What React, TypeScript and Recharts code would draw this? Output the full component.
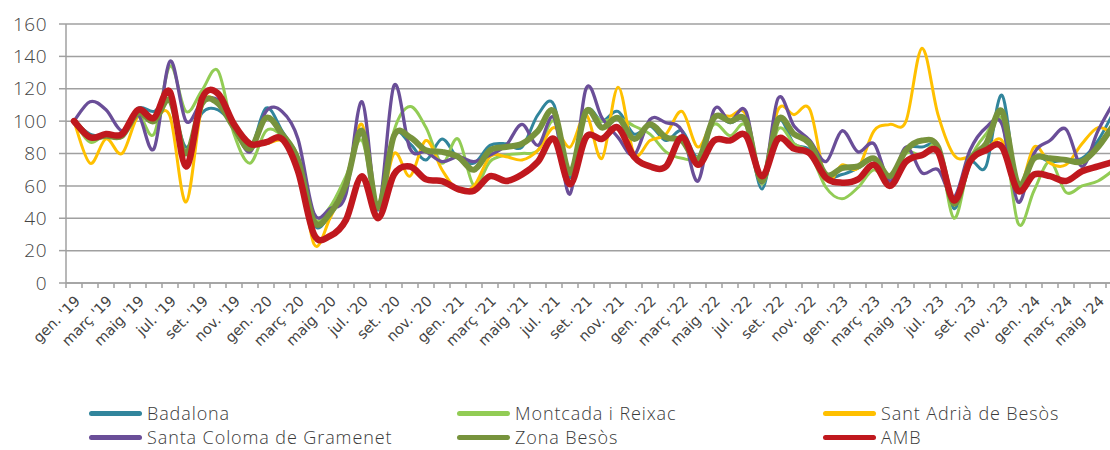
import { CartesianGrid, Line, LineChart, XAxis, YAxis } from "recharts";

// Monthly index (gen. 2019 = 100), gen. '19 – juny '24
const monthNames = ["gen.", "febr.", "març", "abr.", "maig", "juny", "jul.", "ag.", "set.", "oct.", "nov.", "des."];
const years = ["19", "20", "21", "22", "23", "24"];
const monthCount = 66;

const badalona = [
  100, 92, 91, 93, 108, 106, 113, 84, 105, 107, 97, 83,
  108, 94, 76, 36, 42, 59, 92, 45, 91, 86, 76, 89,
  77, 74, 85, 86, 84, 104, 110, 65, 106, 100, 106, 92,
  97, 88, 94, 78, 102, 99, 99, 58, 100, 86, 82, 66,
  67, 71, 76, 61, 82, 84, 83, 46, 74, 72, 116, 57,
  77, 75, 76, 77, 88, 106,
];
const montcada = [
  100, 87, 92, 90, 104, 92, 134, 106, 119, 131, 92, 74,
  94, 91, 78, 40, 47, 66, 88, 46, 94, 109, 96, 74,
  89, 60, 75, 79, 80, 82, 100, 67, 104, 100, 102, 97,
  92, 81, 77, 78, 98, 91, 97, 61, 95, 86, 80, 59,
  52, 59, 70, 62, 80, 79, 84, 40, 76, 92, 100, 37,
  57, 75, 56, 60, 63, 70,
];
const santAdria = [
  100, 74, 89, 80, 103, 102, 103, 50, 109, 112, 98, 87,
  86, 88, 77, 24, 40, 63, 98, 46, 80, 66, 88, 70,
  57, 60, 78, 78, 76, 82, 96, 84, 104, 77, 121, 80,
  88, 92, 106, 84, 102, 103, 104, 64, 107, 104, 107, 64,
  73, 71, 94, 98, 100, 145, 104, 79, 78, 82, 88, 57,
  84, 74, 73, 86, 96, 92,
];
const santaColoma = [
  100, 112, 107, 94, 104, 83, 137, 100, 112, 113, 97, 81,
  106, 106, 89, 43, 46, 55, 112, 46, 122, 83, 81, 75,
  78, 75, 79, 85, 98, 85, 102, 55, 120, 102, 90, 79,
  101, 99, 94, 63, 107, 100, 106, 62, 114, 97, 88, 75,
  94, 81, 86, 63, 84, 68, 70, 53, 82, 96, 98, 50,
  80, 88, 95, 72, 94, 112,
];
const zonaBesos = [
  100, 90, 91, 91, 105, 100, 113, 80, 111, 111, 96, 83,
  102, 92, 76, 38, 43, 61, 94, 47, 91, 90, 82, 81,
  78, 70, 82, 84, 86, 94, 106, 68, 106, 96, 102, 89,
  98, 90, 88, 76, 102, 100, 100, 63, 101, 92, 86, 67,
  71, 72, 77, 66, 82, 88, 84, 49, 76, 86, 106, 61,
  77, 77, 76, 75, 84, 98,
];
const amb = [
  100, 90, 92, 92, 107, 102, 118, 72, 114, 117, 98, 86,
  87, 89, 69, 30, 29, 39, 66, 40, 67, 72, 64, 63,
  58, 57, 66, 63, 67, 75, 89, 61, 90, 89, 96, 78,
  72, 72, 90, 73, 88, 88, 91, 66, 89, 83, 80, 65,
  62, 64, 73, 60, 75, 79, 81, 51, 75, 82, 84, 57,
  67, 66, 63, 69, 72, 75,
];

const yTicks = [0, 20, 40, 60, 80, 100, 120, 140, 160];

const series = [
  { key: "badalona", name: "Badalona", values: badalona, color: "#31859c", width: 3 },
  { key: "montcada", name: "Montcada i Reixac", values: montcada, color: "#92cc55", width: 3 },
  { key: "santAdria", name: "Sant Adrià de Besòs", values: santAdria, color: "#ffc000", width: 3 },
  { key: "santaColoma", name: "Santa Coloma de Gramenet", values: santaColoma, color: "#6a4e98", width: 3.3 },
  { key: "zona", name: "Zona Besòs", values: zonaBesos, color: "#77933c", width: 6 },
  { key: "amb", name: "AMB", values: amb, color: "#c0181e", width: 6.5 },
];

const months = Array.from({ length: monthCount }, (_, i) => `${monthNames[i % 12]} '${years[Math.floor(i / 12)]}`);

const rows = months.map((m, i) => {
  const row: Record<string, string | number> = { month: m };
  series.forEach((s) => (row[s.key] = s.values[i]));
  return row;
});

// Excel-style smoothed line (uniform Catmull-Rom as cubic beziers)
const excelCurve = (context: any) => {
  let pts: number[][] = [];
  return {
    areaStart() {},
    areaEnd() {},
    lineStart() {
      pts = [];
    },
    point(x: number, y: number) {
      pts.push([+x, +y]);
    },
    lineEnd() {
      const n = pts.length;
      if (!n) return;
      context.moveTo(pts[0][0], pts[0][1]);
      for (let i = 0; i < n - 1; i++) {
        const p0 = pts[Math.max(i - 1, 0)];
        const p1 = pts[i];
        const p2 = pts[i + 1];
        const p3 = pts[Math.min(i + 2, n - 1)];
        context.bezierCurveTo(
          p1[0] + (p2[0] - p0[0]) / 6,
          p1[1] + (p2[1] - p0[1]) / 6,
          p2[0] - (p3[0] - p1[0]) / 6,
          p2[1] - (p3[1] - p1[1]) / 6,
          p2[0],
          p2[1],
        );
      }
    },
  };
};

const axisGray = "#a0a0a0";
const labelColor = "#444";

function MonthTick(props: any) {
  const { x, y, payload, index } = props;
  const half = 8;
  const show = index % 2 === 0;
  const ax = x + 7;
  const ay = y + 19;
  return (
    <g>
      <line x1={x - half} x2={x - half} y1={y} y2={y + 5} stroke={axisGray} strokeWidth={1.5} />
      {show && (
        <text
          x={ax}
          y={ay}
          textAnchor="end"
          transform={`rotate(-45 ${ax} ${ay})`}
          fontFamily="DejaVu Sans"
          fontSize={14.5}
          fill={labelColor}
        >
          {payload.value}
        </text>
      )}
    </g>
  );
}

function LegendBlock() {
  const colX = [89, 457, 823];
  const rowY = [413, 437];
  return (
    <>
      {series.map((s, i) => (
        <div
          key={s.key}
          style={{
            position: "absolute",
            left: colX[i % 3],
            top: rowY[Math.floor(i / 3)] - 8,
            height: 16,
            lineHeight: "16px",
            display: "flex",
            alignItems: "center",
            fontFamily: "Open Sans",
            fontWeight: 300,
            fontSize: 18,
            letterSpacing: 0.9,
            color: "#3a3a3a",
            whiteSpace: "nowrap",
          }}
        >
          <span
            style={{
              display: "inline-block",
              width: 53,
              height: 5,
              borderRadius: 3,
              background: s.color,
              marginRight: 5,
            }}
          />
          {s.name}
        </div>
      ))}
    </>
  );
}

export default function App() {
  return (
    <div
      style={{
        position: "absolute",
        left: 0,
        top: 0,
        width: 1110,
        height: 450,
        overflow: "hidden",
        background: "#fff",
      }}
    >
      <LineChart
        width={1140}
        height={400}
        data={rows}
        margin={{ top: 24, right: 18, bottom: 0, left: 0 }}
      >
        <CartesianGrid vertical={false} stroke={axisGray} strokeWidth={1.5} />
        <XAxis
          dataKey="month"
          scale="band"
          interval={0}
          height={117}
          tickSize={0}
          tickMargin={0}
          tickLine={false}
          axisLine={{ stroke: axisGray, strokeWidth: 1.5 }}
          tick={<MonthTick />}
        />
        <YAxis
          width={66}
          domain={[0, 160]}
          ticks={yTicks}
          interval={0}
          tickSize={7}
          tickMargin={12}
          tickLine={{ stroke: axisGray, strokeWidth: 1.5 }}
          axisLine={{ stroke: axisGray, strokeWidth: 1.5 }}
          tick={{ fontFamily: "Open Sans", fontWeight: 300, fontSize: 19, fill: labelColor, letterSpacing: 0.5 }}
        />
        {series.map((s) => (
          <Line
            key={s.key}
            dataKey={s.key}
            name={s.name}
            type={excelCurve as any}
            stroke={s.color}
            strokeWidth={s.width}
            strokeLinecap="round"
            strokeLinejoin="round"
            dot={false}
            activeDot={false}
            isAnimationActive={false}
          />
        ))}
      </LineChart>
      <LegendBlock />
    </div>
  );
}
